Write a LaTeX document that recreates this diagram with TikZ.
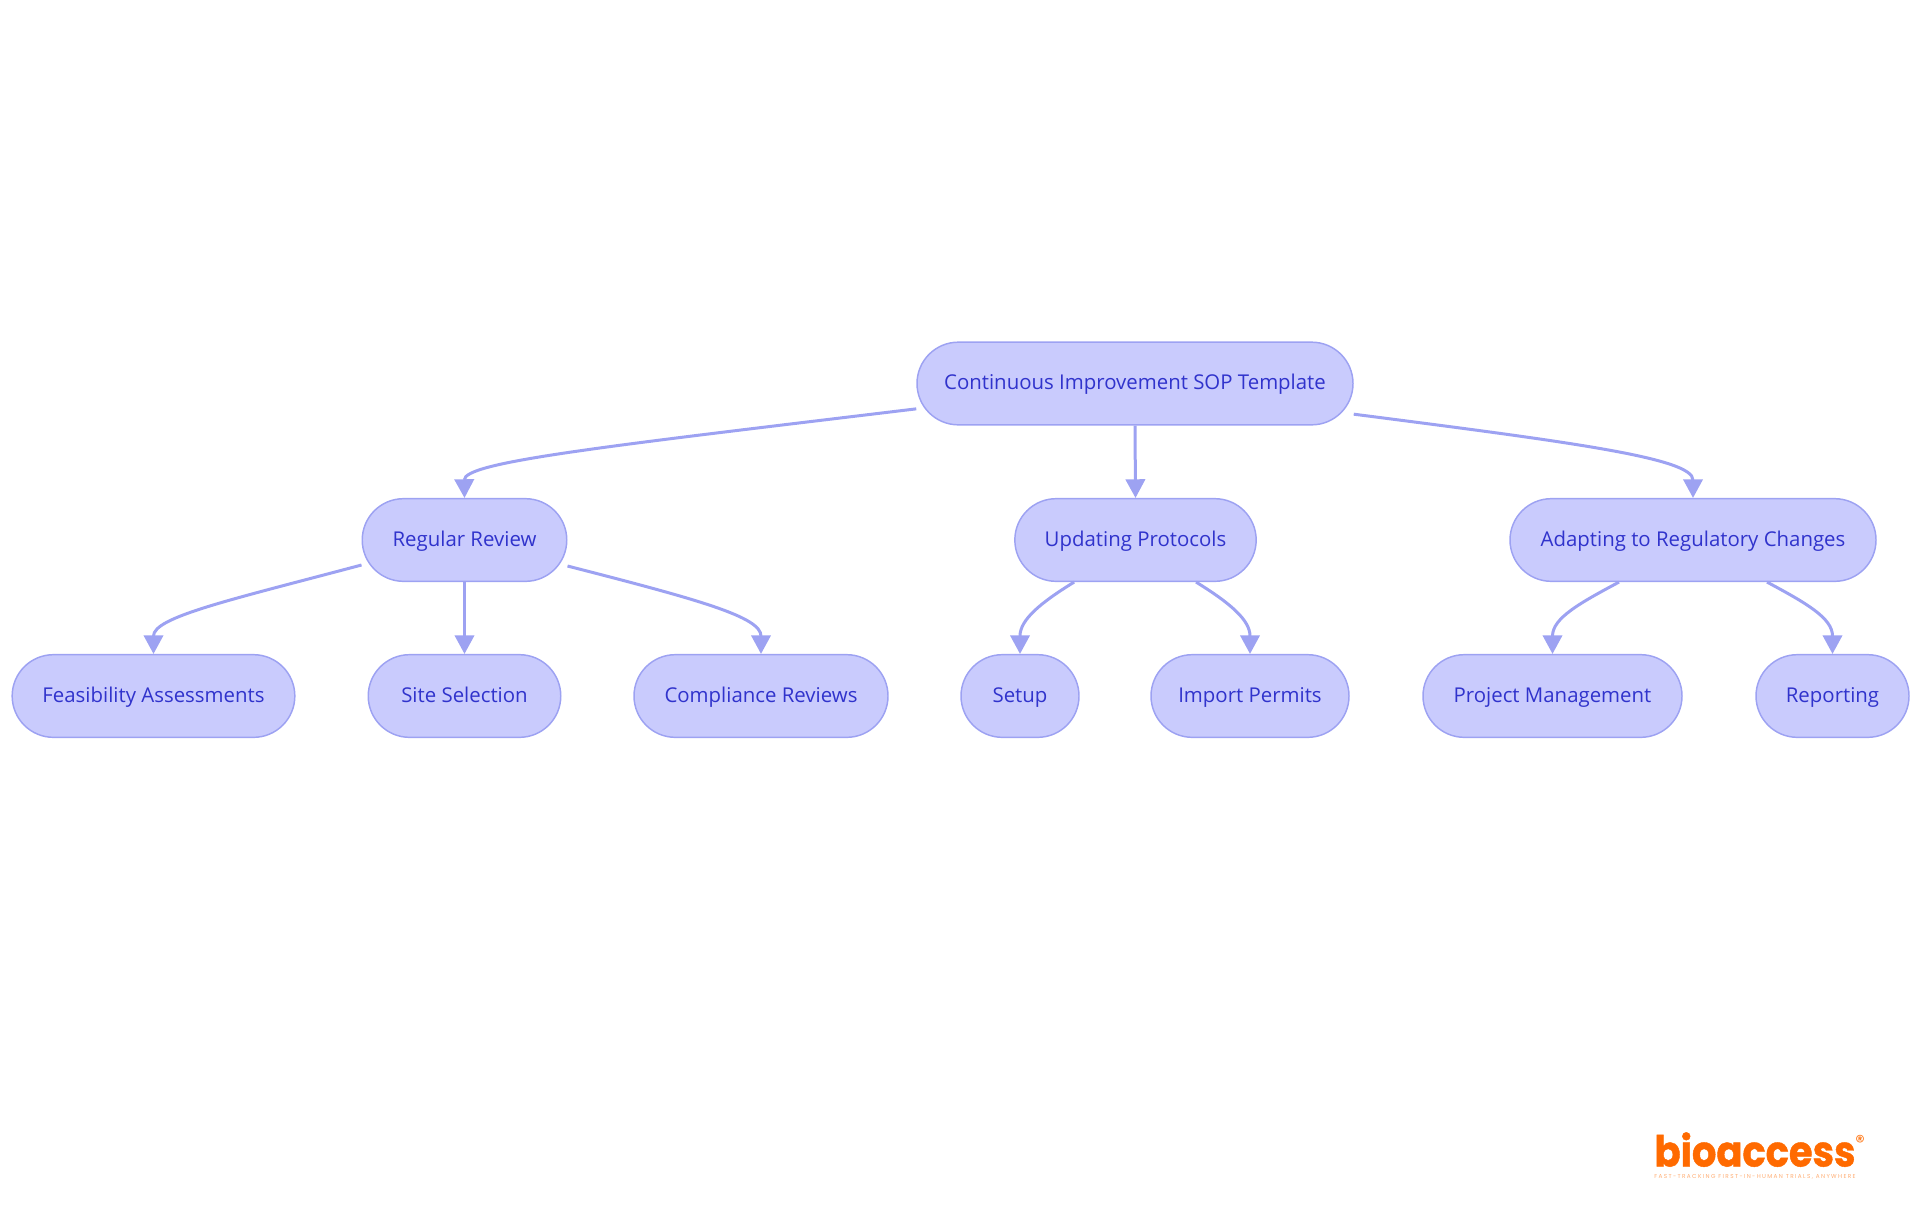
\documentclass[tikz,border=0pt]{standalone}
\usepackage{fontspec}
\setmainfont{Open Sans}
\newfontfamily\logofont[BoldFeatures={FakeStretch=0.9,FakeBold=1}]{Poppins}
\newfontfamily\tagfont[LetterSpace=24]{Poppins}
\usetikzlibrary{arrows.meta}
\definecolor{nodefill}{HTML}{C9CBFD}
\definecolor{nodeline}{HTML}{9DA2F2}
\definecolor{nodetext}{HTML}{3033CC}
\definecolor{logoorange}{HTML}{FF6A00}
\tikzset{
  pill/.style={draw=nodeline,fill=nodefill,line width=1.1pt,rounded corners=31pt,
    text=nodetext,font=\fontsize{15.3pt}{18pt}\selectfont,minimum height=62pt,inner sep=0pt,anchor=center,
    text height=12.15pt,text depth=2.85pt},
  edge/.style={draw=nodeline,line width=2.25pt,-{Triangle[length=14pt,width=14.5pt]}},
}
\begin{document}
\begin{tikzpicture}[x=0.75pt,y=-0.75pt]
\useasboundingbox (0,0) rectangle (1920,1215);
\node[pill,minimum width=327pt] (root) at (1135,383.5) {Continuous Improvement SOP Template};
\node[pill,minimum width=153.4pt] (reg) at (464.5,540) {Regular Review};
\node[pill,minimum width=181pt] (upd) at (1135.5,540) {Updating Protocols};
\node[pill,minimum width=274.5pt] (ada) at (1693,540) {Adapting to Regulatory Changes};
\node[pill,minimum width=212pt] (fea) at (153.5,696) {Feasibility Assessments};
\node[pill,minimum width=144.4pt] (sit) at (464.5,696) {Site Selection};
\node[pill,minimum width=190.5pt] (com) at (761,696) {Compliance Reviews};
\node[pill,minimum width=88.5pt] (set) at (1020,696) {Setup};
\node[pill,minimum width=148.5pt] (imp) at (1250,696) {Import Permits};
\node[pill,minimum width=194.25pt] (prj) at (1552.5,696) {Project Management};
\node[pill,minimum width=114.75pt] (rep) at (1832.5,696) {Reporting};
\path[edge] ([yshift=-19pt]root.west) .. controls (600,447) and (464,462) .. (reg.north);
\path[edge] (root.south) -- (upd.north);
\path[edge] ([yshift=-23pt]root.east) .. controls (1570,442) and (1693,458) .. (ada.north);
\path[edge] ([yshift=-18.75pt]reg.west) .. controls (230,600) and (153.5,617) .. (fea.north);
\path[edge] (reg.south) -- (sit.north);
\path[edge] ([yshift=-19.5pt]reg.east) .. controls (700,600) and (761,617) .. (com.north);
\path[edge] ([xshift=-46pt]upd.south) .. controls (1040,603) and (1020,620) .. (set.north);
\path[edge] ([xshift=45.4pt]upd.south) .. controls (1230,603) and (1250,620) .. (imp.north);
\path[edge] ([xshift=-55.5pt]ada.south) .. controls (1580,603) and (1552.5,618) .. (prj.north);
\path[edge] ([xshift=55.5pt]ada.south) .. controls (1806,603) and (1832.5,618) .. (rep.north);
\node[anchor=base,text=logoorange,inner sep=0pt,text depth=0pt,font=\logofont\bfseries\fontsize{32pt}{32pt}\selectfont] (logo) at (1755,1166.5) {bioaccess};
\node[anchor=center,text=logoorange,inner sep=0pt,font=\logofont\fontsize{14pt}{14pt}\selectfont] (mark) at (1860,1142) {®};
\node[anchor=center,text=logoorange!55,inner sep=0pt,font=\tagfont\fontsize{4.3pt}{5pt}\selectfont] (tag) at (1755,1177) {FAST-TRACKING FIRST-IN-HUMAN TRIALS, ANYWHERE};
\end{tikzpicture}
\end{document}
